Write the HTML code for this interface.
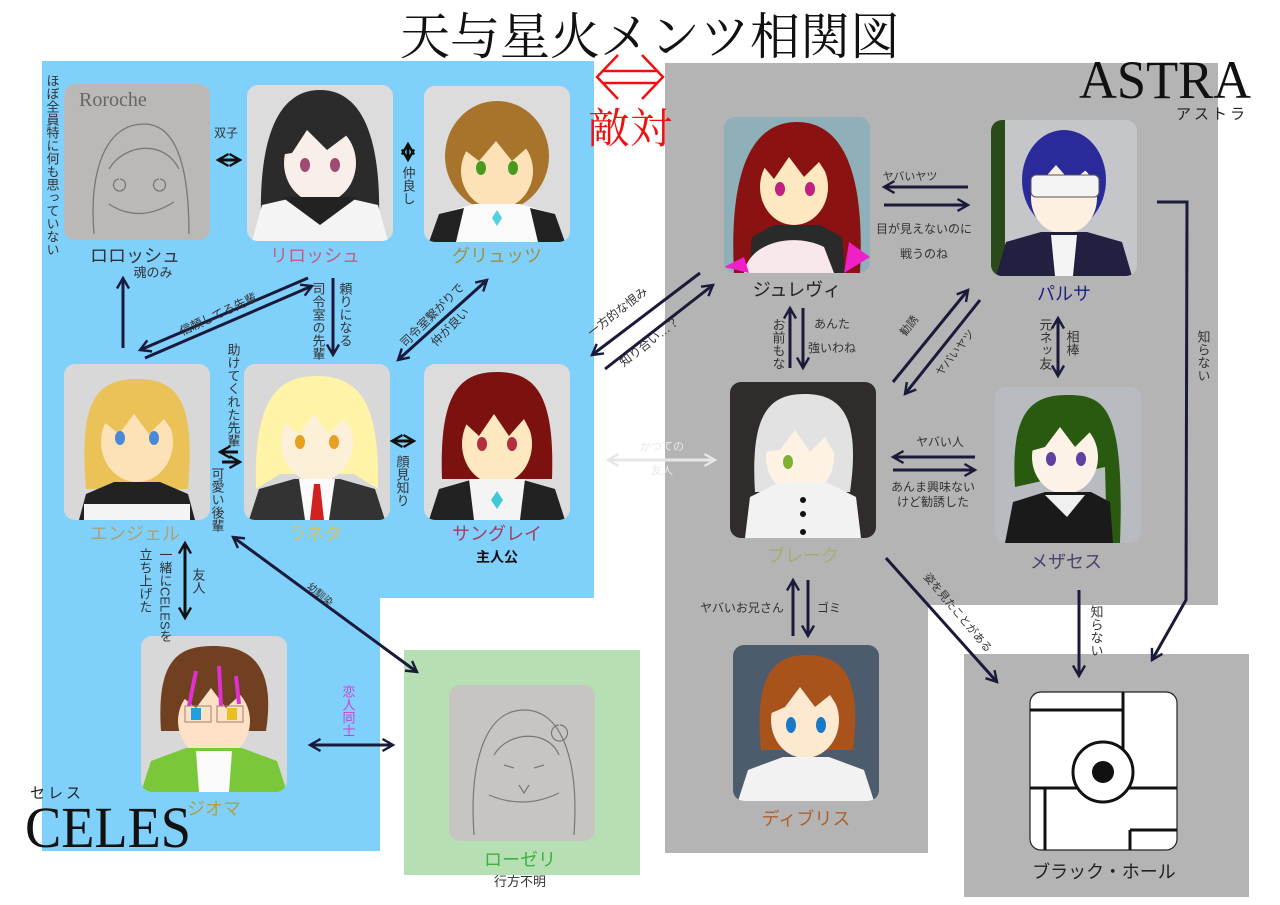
<!DOCTYPE html>
<html><head><meta charset="utf-8"><style>
html,body{margin:0;padding:0;background:#fff;}
svg{display:block;font-family:"Liberation Sans","Noto Sans CJK JP",sans-serif;}
.s{font-family:"Liberation Serif","Noto Serif CJK SC",serif;}
</style></head><body>
<svg width="1280" height="905" viewBox="0 0 1280 905" xmlns="http://www.w3.org/2000/svg">
<defs>
<marker id="ah" viewBox="0 0 10 10" refX="8" refY="5" markerWidth="5" markerHeight="5" orient="auto-start-reverse" markerUnits="strokeWidth"><path d="M1,1 L8,5 L1,9" fill="none" stroke="#111" stroke-width="1.6"/></marker>
<marker id="ahb" viewBox="0 0 10 10" refX="8" refY="5" markerWidth="5" markerHeight="5" orient="auto-start-reverse" markerUnits="strokeWidth"><path d="M1,1 L8,5 L1,9" fill="none" stroke="#1a1a3a" stroke-width="1.6"/></marker>
<marker id="ahg" viewBox="0 0 10 10" refX="8" refY="5" markerWidth="5" markerHeight="5" orient="auto-start-reverse" markerUnits="strokeWidth"><path d="M1,1 L8,5 L1,9" fill="none" stroke="#e6e6e6" stroke-width="1.6"/></marker>
<clipPath id="cc"><rect x="0" y="0" width="146" height="156" rx="11"/></clipPath>
</defs>

<path d="M42,61 H594 V598 H380 V851 H42 Z" fill="#80d0fc"/>
<rect x="404" y="650" width="236" height="225" fill="#b6e0b4"/>
<path d="M665,63 H1218 V605 H928 V853 H665 Z" fill="#b4b4b4"/>
<rect x="964" y="654" width="285" height="243" fill="#b4b4b4"/>

<text x="650" y="54" text-anchor="middle" font-size="50" class="s" fill="#111">天与星火メンツ相関図</text>
<text x="1165" y="98" text-anchor="middle" font-size="54" class="s" fill="#111" textLength="172" lengthAdjust="spacingAndGlyphs">ASTRA</text>
<text x="1212" y="119" text-anchor="middle" font-size="15" fill="#222" letter-spacing="3">アストラ</text>
<text x="108" y="847" text-anchor="middle" font-size="58" class="s" fill="#111" textLength="166" lengthAdjust="spacingAndGlyphs">CELES</text>
<text x="57" y="798" text-anchor="middle" font-size="15" fill="#222" letter-spacing="3">セレス</text>

<path d="M618,55 L597,77 L618,99 M642,55 L663,77 L642,99 M603,71 H657 M603,83 H657" fill="none" stroke="#f01010" stroke-width="2.5"/>
<text x="630" y="143" text-anchor="middle" font-size="42" class="s" fill="#f01010">敵対</text>

<g transform="translate(64,84)" clip-path="url(#cc)"><rect width="146" height="156" fill="#bab9b5"/>
<text x="15" y="22" font-size="20" fill="#666" class="s">Roroche</text>
<path d="M30,150 C25,90 40,40 80,40 C115,40 125,90 125,150 M45,85 C60,60 100,55 115,85 M55,95 a6,6 0 1 0 1,0 M95,95 a6,6 0 1 0 1,0 M45,120 Q75,140 110,118" fill="none" stroke="#777" stroke-width="1.3"/></g>
<g transform="translate(247,85)" clip-path="url(#cc)"><rect width="146" height="156" fill="#dcdcdc"/>
<path d="M15,156 C10,80 20,5 73,5 C126,5 136,80 131,156 Z" fill="#2b2b2b"/>
<ellipse cx="73" cy="78" rx="36" ry="40" fill="#f8eeea"/>
<path d="M32,70 C35,20 110,20 114,70 L100,50 L80,65 L60,45 L45,68 Z" fill="#2b2b2b"/>
<ellipse cx="58" cy="80" rx="5" ry="7" fill="#a04a70"/><ellipse cx="88" cy="80" rx="5" ry="7" fill="#a04a70"/>
<path d="M5,156 L15,120 L50,112 H96 L131,120 L141,156 Z" fill="#f4f4f4"/>
<path d="M35,112 H111 L73,140 Z" fill="#222"/></g>
<g transform="translate(424,86)" clip-path="url(#cc)"><rect width="146" height="156" fill="#dcdcdc"/>
<ellipse cx="73" cy="70" rx="52" ry="55" fill="#a8742c"/>
<ellipse cx="73" cy="85" rx="36" ry="38" fill="#fde2b8"/>
<path d="M30,80 C28,25 118,25 116,80 L105,60 L88,75 L72,55 L55,75 L38,62 Z" fill="#a8742c"/>
<ellipse cx="57" cy="82" rx="5" ry="7" fill="#4a9a20"/><ellipse cx="89" cy="82" rx="5" ry="7" fill="#4a9a20"/>
<path d="M5,156 L15,128 L50,118 H96 L131,128 L141,156 Z" fill="#fafafa"/>
<path d="M5,156 L15,128 L40,122 L32,156 Z M141,156 L131,128 L106,122 L114,156 Z" fill="#222"/>
<path d="M73,140 l-5,-8 l5,-8 l5,8 z" fill="#50d0e0"/></g>
<g transform="translate(64,364)" clip-path="url(#cc)"><rect width="146" height="156" fill="#d8d8d8"/>
<path d="M22,125 C15,40 30,15 73,15 C116,15 131,40 124,125 Z" fill="#eac257"/>
<ellipse cx="73" cy="78" rx="36" ry="40" fill="#fde2b8"/>
<path d="M32,75 C30,25 116,25 114,75 L100,55 L85,70 L70,50 L55,70 L40,58 Z" fill="#eac257"/>
<ellipse cx="56" cy="74" rx="5" ry="7" fill="#4a88d8"/><ellipse cx="90" cy="74" rx="5" ry="7" fill="#4a88d8"/>
<path d="M15,156 L22,130 L50,118 H96 L124,130 L131,156 Z" fill="#222"/>
<rect x="20" y="140" width="106" height="16" fill="#f4f4f4"/></g>
<g transform="translate(244,364)" clip-path="url(#cc)"><rect width="146" height="156" fill="#d8d8d8"/>
<path d="M12,125 C10,40 30,12 73,12 C116,12 136,40 134,125 L110,110 L36,110 Z" fill="#fff3a8"/>
<ellipse cx="73" cy="78" rx="36" ry="40" fill="#fdf0d8"/>
<path d="M32,75 C30,25 116,25 114,75 L100,55 L85,70 L70,50 L55,70 L40,58 Z" fill="#fff3a8"/>
<ellipse cx="56" cy="78" rx="5" ry="7" fill="#e8a020"/><ellipse cx="90" cy="78" rx="5" ry="7" fill="#e8a020"/>
<path d="M5,156 L15,125 L50,115 H96 L131,125 L141,156 Z" fill="#333"/>
<path d="M55,115 H91 L85,156 H61 Z" fill="#fafafa"/><path d="M70,120 h6 l4,36 h-14 z" fill="#d02020"/></g>
<g transform="translate(424,364)" clip-path="url(#cc)"><rect width="146" height="156" fill="#dcdcdc"/>
<path d="M18,115 C15,30 35,8 73,8 C111,8 131,30 128,115 Z" fill="#7c1210"/>
<ellipse cx="73" cy="80" rx="35" ry="40" fill="#fde8c0"/>
<path d="M33,80 C30,25 116,25 113,80 L100,55 L85,72 L70,50 L55,72 L42,60 Z" fill="#7c1210"/>
<ellipse cx="58" cy="80" rx="5" ry="7" fill="#b03040"/><ellipse cx="88" cy="80" rx="5" ry="7" fill="#b03040"/>
<path d="M5,156 L15,125 L50,115 H96 L131,125 L141,156 Z" fill="#222"/>
<path d="M45,115 H101 L96,156 H50 Z" fill="#f4f4f4"/><path d="M73,145 l-6,-9 l6,-9 l6,9 z" fill="#40c8d8"/></g>
<g transform="translate(141,636)" clip-path="url(#cc)"><rect width="146" height="156" fill="#d8d8d8"/>
<path d="M20,95 C15,20 40,10 73,10 C110,10 135,30 125,95 Z" fill="#704020"/>
<ellipse cx="73" cy="85" rx="36" ry="38" fill="#fde2c8"/>
<path d="M30,80 C30,25 116,25 114,80 L100,58 L85,72 L70,52 L55,72 L40,60 Z" fill="#704020"/>
<path d="M55,35 L48,70 M78,30 L80,70 M95,40 L98,68" stroke="#e030d0" stroke-width="4"/>
<rect x="44" y="70" width="26" height="16" fill="none" stroke="#a08070"/><rect x="76" y="70" width="26" height="16" fill="none" stroke="#a08070"/>
<rect x="50" y="72" width="10" height="12" fill="#20a0e0"/><rect x="86" y="72" width="10" height="12" fill="#e8c020"/>
<path d="M0,156 L10,125 L45,112 H101 L136,125 L146,156 Z" fill="#7ac83a"/>
<path d="M55,115 H91 L88,156 H58 Z" fill="#fafafa"/></g>
<g transform="translate(449,685)" clip-path="url(#cc)"><rect width="146" height="156" fill="#c6c5c1"/>
<path d="M25,150 C20,80 35,25 75,25 C115,25 130,80 125,150 M45,70 C60,45 100,45 110,70 M55,80 l10,3 M85,83 l10,-3 M70,100 l5,8 l5,-8 M40,110 Q75,125 110,108 M110,40 a8,8 0 1 0 1,0" fill="none" stroke="#777" stroke-width="1.2"/></g>
<g transform="translate(724,117)" clip-path="url(#cc)"><rect width="146" height="156" fill="#8fb0b8"/>
<path d="M10,156 C5,60 25,5 73,5 C121,5 141,60 136,156 Z" fill="#8a1212"/>
<ellipse cx="70" cy="70" rx="34" ry="38" fill="#fde8c0"/>
<path d="M32,65 C30,15 110,15 108,65 L95,45 L80,60 L65,40 L50,62 L40,50 Z" fill="#8a1212"/>
<ellipse cx="56" cy="72" rx="5" ry="7" fill="#c02080"/><ellipse cx="86" cy="72" rx="5" ry="7" fill="#c02080"/>
<path d="M25,156 L28,120 L50,108 H96 L118,120 L121,156 Z" fill="#2a2a2a"/>
<path d="M20,156 C25,125 70,115 100,130 L110,156 Z" fill="#f8e8ec"/>
<path d="M0,150 L20,140 L25,156 Z M146,140 L125,125 L120,156 Z" fill="#f020c8"/></g>
<g transform="translate(991,120)" clip-path="url(#cc)"><rect width="146" height="156" fill="#c4c6ca"/>
<rect x="0" y="0" width="14" height="156" fill="#2a4a1a"/>
<ellipse cx="73" cy="60" rx="42" ry="50" fill="#2a2a9a"/>
<ellipse cx="73" cy="78" rx="33" ry="36" fill="#fdf0e0"/>
<path d="M38,70 C35,20 110,20 108,70 L95,50 L80,62 L65,45 L50,62 Z" fill="#2a2a9a"/>
<rect x="40" y="55" width="68" height="22" rx="5" fill="#f4f4f4" stroke="#555"/>
<path d="M5,156 L15,122 L50,112 H96 L131,122 L141,156 Z" fill="#222040"/>
<path d="M60,115 H86 L82,156 H64 Z" fill="#f4f4f4"/></g>
<g transform="translate(730,382)" clip-path="url(#cc)"><rect width="146" height="156" fill="#302c2c"/>
<path d="M25,110 C20,30 40,12 75,12 C115,12 130,40 120,110 Z" fill="#e2e2e2"/>
<ellipse cx="70" cy="75" rx="34" ry="38" fill="#fdf2e4"/>
<path d="M32,70 C30,20 115,20 112,85 L95,55 L80,70 L65,48 L50,68 Z" fill="#e2e2e2"/>
<ellipse cx="58" cy="80" rx="5" ry="7" fill="#80b030"/>
<path d="M15,156 L20,115 L50,100 H96 L126,115 L131,156 Z" fill="#f2f2f2"/>
<circle cx="73" cy="118" r="3" fill="#111"/><circle cx="73" cy="132" r="3" fill="#111"/><circle cx="73" cy="150" r="3" fill="#111"/></g>
<g transform="translate(995,387)" clip-path="url(#cc)"><rect width="146" height="156" fill="#b8bcc0"/>
<path d="M20,100 C15,20 40,8 73,8 C110,8 130,20 125,156 L112,156 L110,80 Z" fill="#2a5a10"/>
<ellipse cx="70" cy="70" rx="33" ry="37" fill="#fdf2e8"/>
<path d="M32,65 C30,15 112,15 110,65 L95,45 L80,60 L65,40 L50,60 Z" fill="#2a5a10"/>
<ellipse cx="56" cy="72" rx="5" ry="7" fill="#6040a0"/><ellipse cx="86" cy="72" rx="5" ry="7" fill="#6040a0"/>
<path d="M10,156 L18,115 L50,105 H96 L115,115 L118,156 Z" fill="#1a1a1a"/>
<path d="M50,108 H90 L72,130 Z" fill="#f0f0f0"/></g>
<g transform="translate(733,645)" clip-path="url(#cc)"><rect width="146" height="156" fill="#4c5c6c"/>
<path d="M28,105 C20,25 45,10 73,10 C105,10 130,25 120,105 Z" fill="#a8521c"/>
<ellipse cx="72" cy="75" rx="34" ry="38" fill="#fde8d0"/>
<path d="M34,70 C32,20 112,20 110,70 L97,50 L82,62 L67,42 L52,62 Z" fill="#a8521c"/>
<ellipse cx="58" cy="80" rx="5" ry="8" fill="#1a78c8"/><ellipse cx="88" cy="80" rx="5" ry="8" fill="#1a78c8"/>
<path d="M5,156 L15,125 L50,112 H96 L131,125 L141,156 Z" fill="#f2f2f2"/></g>
<g transform="translate(1030,692)"><rect width="147" height="158" rx="11" fill="#fff" stroke="#222" stroke-width="1.2"/>
<path d="M0,18 H93 M93,0 V96 M0,96 H147 M15,96 V158 M100,138 H147 M100,138 V158" stroke="#111" stroke-width="3" fill="none"/>
<circle cx="73" cy="80" r="30" fill="#fff" stroke="#111" stroke-width="3"/><circle cx="73" cy="80" r="11" fill="#111"/></g>

<g font-size="18" text-anchor="middle">
<text x="135" y="262" fill="#333">ロロッシュ</text>
<text x="315" y="262" fill="#c06080">リロッシュ</text>
<text x="497" y="262" fill="#a09040">グリュッツ</text>
<text x="135" y="540" fill="#b0a070">エンジェル</text>
<text x="315" y="540" fill="#d8c060">ラネタ</text>
<text x="497" y="540" fill="#a04060">サングレイ</text>
<text x="214" y="815" fill="#b0a040">ジオマ</text>
<text x="520" y="866" fill="#40b040">ローゼリ</text>
<text x="797" y="296" fill="#222">ジュレヴィ</text>
<text x="1064" y="300" fill="#202080">パルサ</text>
<text x="803" y="562" fill="#a0b070">ブレーク</text>
<text x="1066" y="568" fill="#504070">メザセス</text>
<text x="806" y="825" fill="#b06030">ディブリス</text>
<text x="1104" y="878" fill="#222">ブラック・ホール</text>
</g>
<text x="497" y="562" font-size="14" text-anchor="middle" fill="#111" font-weight="bold">主人公</text>
<text x="520" y="886" font-size="13" text-anchor="middle" fill="#333">行方不明</text>
<text x="153" y="277" font-size="13" text-anchor="middle" fill="#333">魂のみ</text>

<g fill="none" stroke="#111" stroke-width="3">
<line x1="218" y1="160" x2="240" y2="160" marker-start="url(#ah)" marker-end="url(#ah)"/>
<line x1="408" y1="144" x2="408" y2="160" marker-start="url(#ah)" marker-end="url(#ah)"/>
<line x1="123" y1="348" x2="123" y2="278" marker-end="url(#ahb)" stroke="#1a1a3a"/>
<line x1="308" y1="278" x2="140" y2="350" marker-end="url(#ahb)" stroke="#1a1a3a"/>
<line x1="145" y1="358" x2="312" y2="286" marker-end="url(#ahb)" stroke="#1a1a3a"/>
<line x1="333" y1="278" x2="333" y2="355" marker-end="url(#ahb)" stroke="#1a1a3a"/>
<line x1="398" y1="360" x2="487" y2="280" marker-start="url(#ahb)" marker-end="url(#ahb)" stroke="#1a1a3a"/>
<line x1="238" y1="452" x2="220" y2="452" marker-end="url(#ah)"/>
<line x1="222" y1="462" x2="240" y2="462" marker-end="url(#ah)"/>
<line x1="392" y1="441" x2="414" y2="441" marker-start="url(#ah)" marker-end="url(#ah)"/>
<line x1="185" y1="543" x2="185" y2="618" marker-start="url(#ah)" marker-end="url(#ah)"/>
<line x1="233" y1="537" x2="417" y2="672" marker-start="url(#ahb)" marker-end="url(#ahb)" stroke="#1a1a3a"/>
<line x1="310" y1="745" x2="393" y2="745" marker-start="url(#ahb)" marker-end="url(#ahb)" stroke="#1a1a3a"/>
<line x1="700" y1="273" x2="592" y2="355" marker-end="url(#ahb)" stroke="#1a1a3a"/>
<line x1="605" y1="369" x2="713" y2="285" marker-end="url(#ahb)" stroke="#1a1a3a"/>
<line x1="608" y1="460" x2="715" y2="460" marker-start="url(#ahg)" marker-end="url(#ahg)" stroke="#e6e6e6"/>
<line x1="968" y1="187" x2="884" y2="187" marker-end="url(#ahb)" stroke="#1a1a3a"/>
<line x1="884" y1="205" x2="968" y2="205" marker-end="url(#ahb)" stroke="#1a1a3a"/>
<line x1="790" y1="368" x2="790" y2="308" marker-end="url(#ahb)" stroke="#1a1a3a"/>
<line x1="803" y1="308" x2="803" y2="368" marker-end="url(#ahb)" stroke="#1a1a3a"/>
<line x1="893" y1="382" x2="968" y2="290" marker-end="url(#ahb)" stroke="#1a1a3a"/>
<line x1="980" y1="300" x2="905" y2="394" marker-end="url(#ahb)" stroke="#1a1a3a"/>
<line x1="1058" y1="318" x2="1058" y2="376" marker-start="url(#ahb)" marker-end="url(#ahb)" stroke="#1a1a3a"/>
<polyline points="1157,202 1187,202 1186,600 1152,660" marker-end="url(#ahb)" stroke="#1a1a3a"/>
<line x1="975" y1="457" x2="893" y2="457" marker-end="url(#ahb)" stroke="#1a1a3a"/>
<line x1="893" y1="470" x2="975" y2="470" marker-end="url(#ahb)" stroke="#1a1a3a"/>
<line x1="793" y1="636" x2="793" y2="580" marker-end="url(#ahb)" stroke="#1a1a3a"/>
<line x1="808" y1="580" x2="808" y2="636" marker-end="url(#ahb)" stroke="#1a1a3a"/>
<line x1="886" y1="558" x2="997" y2="682" marker-end="url(#ahb)" stroke="#1a1a3a"/>
<line x1="1079" y1="590" x2="1079" y2="676" marker-end="url(#ahb)" stroke="#1a1a3a"/>
</g>

<g font-size="12" fill="#333">
<text x="226" y="137" text-anchor="middle">双子</text>
<text x="910" y="180" text-anchor="middle" font-size="11">ヤバいヤツ</text>
<text x="924" y="233" text-anchor="middle">目が見えないのに</text>
<text x="924" y="258" text-anchor="middle">戦うのね</text>
<text x="832" y="328" text-anchor="middle">あんた</text>
<text x="832" y="352" text-anchor="middle">強いわね</text>
<text x="940" y="446" text-anchor="middle">ヤバい人</text>
<text x="933" y="491" text-anchor="middle">あんま興味ない</text>
<text x="933" y="506" text-anchor="middle">けど勧誘した</text>
<text x="742" y="612" text-anchor="middle">ヤバいお兄さん</text>
<text x="829" y="612" text-anchor="middle">ゴミ</text>
<text x="662" y="450" text-anchor="middle" fill="#e8e8e8" font-size="11">かつての</text>
<text x="662" y="474" text-anchor="middle" fill="#e8e8e8" font-size="11">友人</text>
<text transform="translate(220,318) rotate(-25)" text-anchor="middle">信頼してる先輩</text>
<text transform="translate(435,318) rotate(-45)" text-anchor="middle">司令室繋がりで</text>
<text transform="translate(453,330) rotate(-45)" text-anchor="middle">仲が良い</text>
<text transform="translate(318,597) rotate(40)" text-anchor="middle" font-size="10">幼馴染</text>
<text transform="translate(620,315) rotate(-38)" text-anchor="middle">一方的な恨み</text>
<text transform="translate(652,345) rotate(-38)" text-anchor="middle">知り合い…？</text>
<text transform="translate(912,328) rotate(-52)" text-anchor="middle" font-size="11">勧誘</text>
<text transform="translate(958,355) rotate(-52)" text-anchor="middle" font-size="11">ヤバいヤツ</text>
<text transform="translate(955,615) rotate(50)" text-anchor="middle" font-size="11">姿を見たことがある</text>
</g>
<g font-size="13" fill="#333" style="writing-mode:vertical-rl">
<text x="52" y="74">ほぼ全員特に何も思っていない</text>
<text x="408" y="166">仲良し</text>
<text x="345" y="282">頼りになる</text>
<text x="318" y="282">司令室の先輩</text>
<text x="233" y="343">助けてくれた先輩</text>
<text x="217" y="467">可愛い後輩</text>
<text x="402" y="455">顔見知り</text>
<text x="165" y="548">一緒にCELESを</text>
<text x="145" y="548">立ち上げた</text>
<text x="198" y="568">友人</text>
<text x="348" y="685" fill="#d040d0">恋人同士</text>
<text x="778" y="318">お前もな</text>
<text x="1045" y="318">元ネッ友</text>
<text x="1072" y="330">相棒</text>
<text x="1203" y="330">知らない</text>
<text x="1096" y="605">知らない</text>
</g>
</svg>
</body></html>
